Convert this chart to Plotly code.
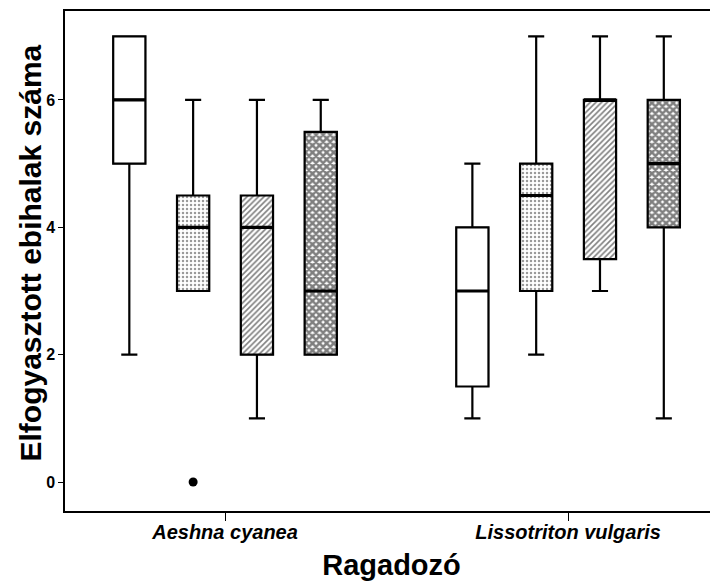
import plotly.graph_objects as go

# ---- data ----
categories = ["Aeshna cyanea", "Lissotriton vulgaris"]
groups = ["g1", "g2", "g3", "g4"]
# per group: values for [Aeshna, Lissotriton]
lowerfence = {"g1": [2, 1], "g2": [3, 2], "g3": [1, 3], "g4": [2, 1]}
q1 = {"g1": [5, 1.5], "g2": [3, 3], "g3": [2, 3.5], "g4": [2, 4]}
median = {"g1": [6, 3], "g2": [4, 4.5], "g3": [4, 6], "g4": [3, 5]}
q3 = {"g1": [7, 4], "g2": [4.5, 5], "g3": [4.5, 6], "g4": [5.5, 6]}
upperfence = {"g1": [7, 5], "g2": [6, 7], "g3": [6, 7], "g4": [6, 7]}
outliers = {"g2": ([0], [0])}  # (category index list, values)
y_ticks = [0, 2, 4, 6]
x_title = "Ragadozó"
y_title = "Elfogyasztott ebihalak száma"

# ---- styling ----
offsets = {"g1": -1.5, "g2": -0.5, "g3": 0.5, "g4": 1.5}
step = 0.186
bw = 0.094
patterns = {
    "g1": dict(shape=""),
    "g2": dict(shape=".", size=4, solidity=0.3, fgcolor="#333333", bgcolor="white"),
    "g3": dict(shape="/", size=4, solidity=0.4, fgcolor="black", bgcolor="white"),
    "g4": dict(shape="x", size=5, solidity=0.75, fgcolor="black", bgcolor="white"),
}
FONT = "Liberation Sans, Arial, sans-serif"

fig = go.Figure()
for g in groups:
    xs = [i + offsets[g] * step for i in range(len(categories))]
    base = q1[g]
    heights = [b - a for a, b in zip(q1[g], q3[g])]
    fig.add_trace(go.Bar(
        x=xs, y=heights, base=base, width=bw,
        marker=dict(color="white", pattern=patterns[g],
                    line=dict(color="#333333", width=1.2)),
        showlegend=False, hoverinfo="skip"))
for g in groups:
    xs = [i + offsets[g] * step for i in range(len(categories))]
    fig.add_trace(go.Box(
        x=xs, q1=q1[g], median=median[g], q3=q3[g],
        lowerfence=lowerfence[g], upperfence=upperfence[g],
        width=bw, whiskerwidth=0.5, boxpoints=False,
        fillcolor="rgba(0,0,0,0)",
        line=dict(color="black", width=2.2),
        showlegend=False))
    # thicker median line
    for x, m in zip(xs, median[g]):
        fig.add_trace(go.Scatter(
            x=[x - bw / 2, x + bw / 2], y=[m, m], mode="lines",
            line=dict(color="black", width=3.2), showlegend=False,
            hoverinfo="skip"))
for g, (cidx, vals) in outliers.items():
    fig.add_trace(go.Scatter(
        x=[c + offsets[g] * step for c in cidx], y=vals, mode="markers",
        marker=dict(color="black", size=9), showlegend=False))

# page body has an 8px margin: figure is 710x575, offset by 8px
fig.update_layout(
    width=710, height=575,
    margin=dict(l=57, r=0, t=3, b=72, autoexpand=False),
    paper_bgcolor="white", plot_bgcolor="white",
    barmode="overlay", boxmode="overlay",
    font=dict(family=FONT, color="black"),
    xaxis=dict(
        range=[-0.4665, 1.437], tickmode="array", automargin=False,
        tickvals=list(range(len(categories))),
        ticktext=[f"<b><i>{c}</i></b>" for c in categories],
        tickfont=dict(size=20, family=FONT, color="black"),
        ticks="outside", ticklen=8, tickwidth=1.2, tickcolor="black",
        ticklabelstandoff=-6,
        showline=True, linecolor="black", linewidth=1.5, mirror=True,
        showgrid=False, zeroline=False,
        title=dict(text=f"<b>{x_title}</b>", font=dict(size=29, family=FONT),
                   standoff=13),
    ),
    yaxis=dict(
        range=[-0.455, 7.397], tickmode="array", tickvals=y_ticks,
        automargin=False,
        ticktext=[f"<b>{t}</b>" for t in y_ticks],
        tickfont=dict(size=16, family=FONT, color="black"),
        ticks="outside", ticklen=5, tickwidth=1.2, tickcolor="black",
        showline=True, linecolor="black", linewidth=1.5,
        showgrid=False, zeroline=False,
    ),
    annotations=[dict(
        text=f"<b>{y_title}</b>", textangle=-90,
        xref="paper", yref="paper", x=(22 - 57) / 653, y=0.515,
        xanchor="center", yanchor="middle", showarrow=False,
        font=dict(size=30, family=FONT, color="black"),
    )],
)

fig.write_html("out.html")
